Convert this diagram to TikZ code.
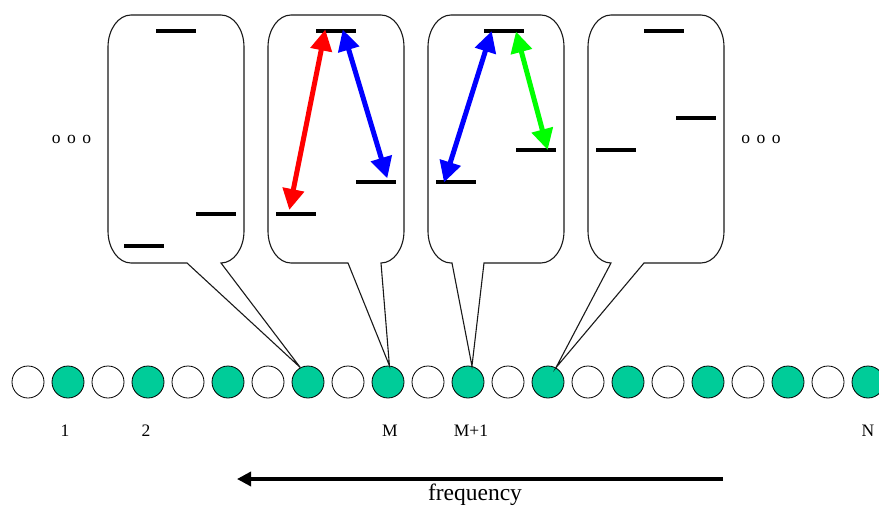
\documentclass[tikz,border=0pt]{standalone}
\usepackage{fontspec}
\setmainfont{Liberation Serif}
\usetikzlibrary{arrows.meta}
\definecolor{dotgreen}{HTML}{00CC99}
\newcommand\callout[4]{%
 \draw[callout] (#1,47) .. controls (#1,29.4) and ({#1+10.35},15) .. ({#1+23},15)
  -- ({#1+113},15) .. controls ({#1+125.65},15) and ({#1+136},29.4) .. ({#1+136},47)
  -- ({#1+136},231) .. controls ({#1+136},248.6) and ({#1+125.65},263) .. ({#1+113},263)
  -- (#3,263) -- (#4) -- (#2,263)
  -- ({#1+23},263) .. controls ({#1+10.35},263) and (#1,248.6) .. (#1,231) -- cycle;}
\begin{document}
\begin{tikzpicture}[x=1pt,y=-1pt,
  dot/.style={circle,draw,line width=0.8pt,minimum size=32pt,inner sep=0pt},
  callout/.style={draw=black!90,line width=1.1pt,line join=miter},
  level/.style={line width=3.6pt},
  dbl/.style={line width=5pt,{Triangle[length=21pt,width=21pt]}-{Triangle[length=21pt,width=21pt]}},
  lbl/.style={font=\fontsize{17.5}{20}\selectfont,inner sep=0pt}]
\useasboundingbox (0,0) rectangle (879,506);
\foreach \i in {0,...,21}{
  \ifodd\i \def\f{dotgreen}\else\def\f{white}\fi
  \node[dot,fill=\f] (c\i) at ({28+40*\i},382) {};
}
\callout{108}{187}{221}{c7.118}
\callout{268}{348}{381}{c9.85}
\callout{428}{452}{484}{c11.76}
\callout{588}{611}{644}{c13.61}
% levels box 1
\draw[level] (156,31) -- (196,31);
\draw[level] (196,214) -- (236,214);
\draw[level] (124,246) -- (164,246);
% box 2
\draw[level] (316,31) -- (356,31);
\draw[level] (356,182) -- (396,182);
\draw[level] (276,214) -- (316,214);
% box 3
\draw[level] (484,31) -- (524,31);
\draw[level] (516,150) -- (556,150);
\draw[level] (436,182) -- (476,182);
% box 4
\draw[level] (644,31) -- (684,31);
\draw[level] (676,118) -- (716,118);
\draw[level] (596,150) -- (636,150);
% arrows
\draw[dbl,red] (289.3,210) -- (325.3,29.5);
\draw[dbl,blue] (342.7,29.5) -- (387.3,178.3);
\draw[dbl,blue] (444,182.5) -- (491.7,31);
\draw[dbl,green] (516,31.5) -- (547.7,150);
% labels
\node[lbl] (d1) at (71.5,139) {o\hspace{6.5pt}o\hspace{6.5pt}o};
\node[lbl] (d2) at (761,139) {o\hspace{6.5pt}o\hspace{6.5pt}o};
\node[lbl] (l1) at (65,431) {1};
\node[lbl] (l2) at (146,431) {2};
\node[lbl] (lM) at (390,431) {M};
\node[lbl] (lM1) at (471,431) {M+1};
\node[lbl] (lN) at (868,431) {N};
\coordinate (fs) at (723,479);
\coordinate (fe) at (237,479);
\draw[line width=3.3pt,-{Triangle[length=14pt,width=14pt]}] (fs) -- (fe);
\node[font=\fontsize{23.5}{26}\selectfont,inner sep=0pt] (freq) at (475,494.5) {frequency};
\end{tikzpicture}
\end{document}
